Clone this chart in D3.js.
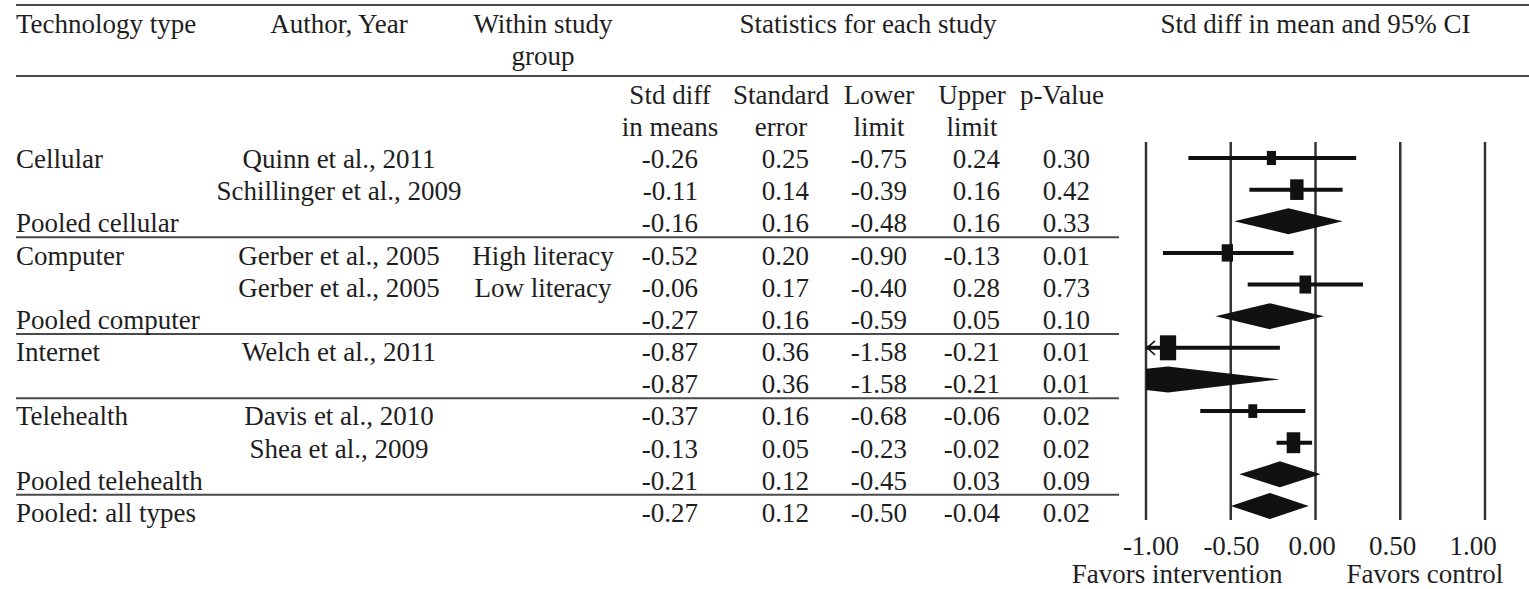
<!DOCTYPE html>
<html>
<head>
<meta charset="utf-8">
<script src="https://cdn.jsdelivr.net/npm/d3@7"></script>
<style>
  html, body { margin: 0; padding: 0; background: #fff; }
  svg { display: block; }
  text { font-family: "Liberation Serif", "Times New Roman", serif; font-size: 27px; fill: #1e1e1e; }
</style>
</head>
<body>
<svg id="chart" width="1529" height="589"></svg>
<script>
// ---- study table ----
const techType = ["Cellular", "", "Pooled cellular", "Computer", "", "Pooled computer",
                  "Internet", "", "Telehealth", "", "Pooled telehealth", "Pooled: all types"];
const authors  = ["Quinn et al., 2011", "Schillinger et al., 2009", "", "Gerber et al., 2005",
                  "Gerber et al., 2005", "", "Welch et al., 2011", "", "Davis et al., 2010",
                  "Shea et al., 2009", "", ""];
const subgroup = ["", "", "", "High literacy", "Low literacy", "", "", "", "", "", "", ""];
const stdDiff  = [-0.26, -0.11, -0.16, -0.52, -0.06, -0.27, -0.87, -0.87, -0.37, -0.13, -0.21, -0.27];
const stdErr   = [0.25, 0.14, 0.16, 0.20, 0.17, 0.16, 0.36, 0.36, 0.16, 0.05, 0.12, 0.12];
const lowerLim = [-0.75, -0.39, -0.48, -0.90, -0.40, -0.59, -1.58, -1.58, -0.68, -0.23, -0.45, -0.50];
const upperLim = [0.24, 0.16, 0.16, -0.13, 0.28, 0.05, -0.21, -0.21, -0.06, -0.02, 0.03, -0.04];
const pValue   = [0.30, 0.42, 0.33, 0.01, 0.73, 0.10, 0.01, 0.01, 0.02, 0.02, 0.09, 0.02];
// "study" rows get a weighted square, "pooled" rows a diamond
const rowKind  = ["study", "study", "pooled", "study", "study", "pooled",
                  "study", "pooled", "study", "study", "pooled", "pooled"];
// relative weight (%) of each study inside its technology group
const relWeight = [32, 68, null, 48, 52, null, 100, null, 30, 70, null, null];
// groups end after these rows
const groupEnds = [2, 5, 7, 10];

// ---- axis ----
const axisTicks = [-1.0, -0.5, 0.0, 0.5, 1.0];
const favorsLeft = "Favors intervention";
const favorsRight = "Favors control";

const svg = d3.select("#chart");
// plain hyphen for negative numbers
const fmt = d3.formatLocale({ decimal: ".", thousands: ",", grouping: [3], currency: ["", ""], minus: "-" }).format(".2f");
const idx = d3.range(techType.length);

const x = d3.scaleLinear().domain([-1, 1]).range([1146, 1485]);
const yPlot = d3.scaleLinear().domain([0, idx.length - 1]).range([158, 506]);
const yText = d3.scaleLinear().domain([0, idx.length - 1]).range([168, 522]);
const markH = d3.scaleSqrt().domain([0, 100]).range([0, 25]);

const lineColor = "#4a4a4a";
const tableLeft = 16, tableRight = 1119;

// horizontal rules
svg.append("line").attr("x1", tableLeft).attr("x2", 1529).attr("y1", 5).attr("y2", 5)
  .attr("stroke", lineColor).attr("stroke-width", 2);
svg.append("line").attr("x1", tableLeft).attr("x2", 1529).attr("y1", 76).attr("y2", 76)
  .attr("stroke", lineColor).attr("stroke-width", 2);
svg.selectAll("line.sep").data(groupEnds).join("line").attr("class", "sep")
  .attr("x1", tableLeft).attr("x2", tableRight)
  .attr("y1", d => yText(d) + 5).attr("y2", d => yText(d) + 5)
  .attr("stroke", lineColor).attr("stroke-width", 2);

// column headers
const head = svg.append("g");
head.append("text").attr("x", tableLeft).attr("y", 33).text("Technology type");
head.append("text").attr("x", 339).attr("y", 33).attr("text-anchor", "middle").text("Author, Year");
head.append("text").attr("x", 543).attr("y", 33).attr("text-anchor", "middle").text("Within study");
head.append("text").attr("x", 543).attr("y", 65).attr("text-anchor", "middle").text("group");
head.append("text").attr("x", 868).attr("y", 33).attr("text-anchor", "middle").text("Statistics for each study");
head.append("text").attr("x", x(0)).attr("y", 33).attr("text-anchor", "middle").text("Std diff in mean and 95% CI");

// numeric columns
const cols = [
  { c: 670,  h: ["Std diff", "in means"], v: stdDiff },
  { c: 781,  h: ["Standard", "error"],    v: stdErr },
  { c: 879,  h: ["Lower", "limit"],       v: lowerLim },
  { c: 972,  h: ["Upper", "limit"],       v: upperLim },
  { c: 1062, h: ["p-Value", ""],          v: pValue }
];
cols.forEach(col => {
  col.h.forEach((t, k) => head.append("text").attr("x", col.c).attr("y", yText(k - 2))
    .attr("text-anchor", "middle").text(t));
  svg.append("g").selectAll("text").data(idx).join("text")
    .attr("x", col.c + 28).attr("y", i => yText(i)).attr("text-anchor", "end")
    .text(i => fmt(col.v[i]));
});

// label columns
svg.append("g").selectAll("text").data(idx).join("text")
  .attr("x", tableLeft).attr("y", i => yText(i)).text(i => techType[i]);
svg.append("g").selectAll("text").data(idx).join("text")
  .attr("x", 339).attr("y", i => yText(i)).attr("text-anchor", "middle").text(i => authors[i]);
svg.append("g").selectAll("text").data(idx).join("text")
  .attr("x", 543).attr("y", i => yText(i)).attr("text-anchor", "middle").text(i => subgroup[i]);

// forest plot
const plot = svg.append("g");
plot.selectAll("line.grid").data(axisTicks).join("line").attr("class", "grid")
  .attr("x1", d => x(d)).attr("x2", d => x(d)).attr("y1", 142).attr("y2", 520)
  .attr("stroke", "#333").attr("stroke-width", 2.5);

svg.append("defs").append("clipPath").attr("id", "plotClip")
  .append("rect").attr("x", x(-1)).attr("y", 130).attr("width", x(1) - x(-1)).attr("height", 400);

const marks = plot.append("g").attr("clip-path", "url(#plotClip)");
const studies = idx.filter(i => rowKind[i] === "study");
const pooled = idx.filter(i => rowKind[i] === "pooled");

marks.selectAll("line.ci").data(studies).join("line").attr("class", "ci")
  .attr("x1", i => x(Math.max(lowerLim[i], -1))).attr("x2", i => x(Math.min(upperLim[i], 1)))
  .attr("y1", i => yPlot(i)).attr("y2", i => yPlot(i))
  .attr("stroke", "#111").attr("stroke-width", 4);

marks.selectAll("rect.pt").data(studies).join("rect").attr("class", "pt")
  .attr("width", i => markH(relWeight[i]) * 0.65).attr("height", i => markH(relWeight[i]))
  .attr("x", i => x(stdDiff[i]) - markH(relWeight[i]) * 0.325)
  .attr("y", i => yPlot(i) - markH(relWeight[i]) / 2)
  .attr("fill", "#111");

marks.selectAll("path.dia").data(pooled).join("path").attr("class", "dia")
  .attr("d", i => {
    const y = yPlot(i), h = 13;
    return `M${x(lowerLim[i])},${y}L${x(stdDiff[i])},${y - h}L${x(upperLim[i])},${y}L${x(stdDiff[i])},${y + h}Z`;
  })
  .attr("fill", "#111");

// arrows for intervals running past the axis
plot.selectAll("path.arrow").data(studies.filter(i => lowerLim[i] < -1)).join("path").attr("class", "arrow")
  .attr("d", i => `M${x(-1) + 9},${yPlot(i) - 7}L${x(-1) + 1},${yPlot(i)}L${x(-1) + 9},${yPlot(i) + 7}`)
  .attr("fill", "none").attr("stroke", "#111").attr("stroke-width", 1.5);

// tick labels
const xLab = d3.scaleLinear().domain([-1, 1]).range([x(-1) + 5, x(1) - 12]);
plot.selectAll("text.tick").data(axisTicks).join("text").attr("class", "tick")
  .attr("x", d => xLab(d)).attr("y", 555).attr("text-anchor", "middle").text(d => fmt(d));

plot.append("text").attr("x", x(0) - 33).attr("y", 583).attr("text-anchor", "end").text(favorsLeft);
plot.append("text").attr("x", x(0) + 31).attr("y", 583).text(favorsRight);
</script>
</body>
</html>
